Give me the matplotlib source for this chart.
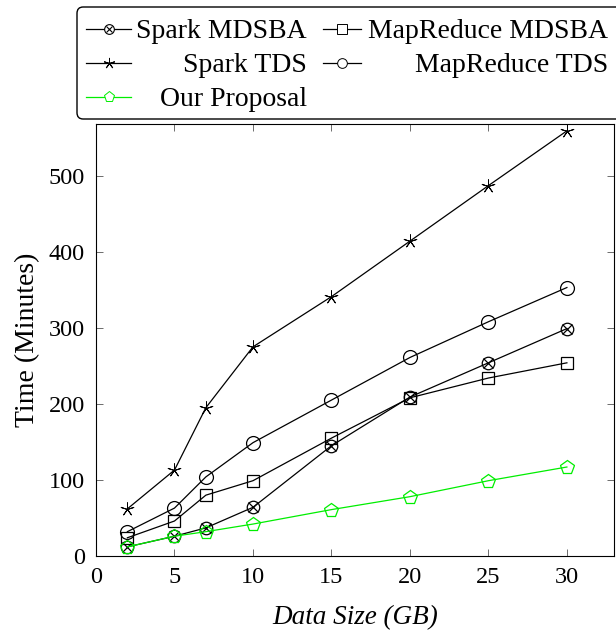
import matplotlib

matplotlib.use("Agg")
import matplotlib.pyplot as plt
from matplotlib.lines import Line2D
from matplotlib.patches import FancyBboxPatch

plt.rcParams["font.family"] = ["Liberation Serif", "DejaVu Serif"]

data_size = [2, 5, 7, 10, 15, 20, 25, 30]
spark_mdsba = [12, 26, 37, 64, 145, 209, 254, 299]
mapreduce_mdsba = [24, 46, 80, 99, 155, 208, 234, 254]
spark_tds = [62, 113, 195, 275, 341, 414, 487, 559]
mapreduce_tds = [32, 63, 104, 149, 205, 261, 308, 353]
our_proposal = [12, 26, 32, 42, 61, 78, 99, 117]

GREEN = "#00ee00"
W, H = 616, 635

fig = plt.figure(figsize=(W / 100, H / 100), dpi=100)
ax = fig.add_axes([96 / W, 1 - 556 / H, (614 - 96) / W, (556 - 124) / H])

star = (5, 2, 0)
common = dict(color="black", lw=0.9, mfc="none", mec="black", mew=0.9)

# otimes marker = open circle + x
ax.plot(data_size, spark_mdsba, marker="o", ms=9, **common)
ax.plot(data_size, spark_mdsba, ls="none", marker="x", ms=6.5, mec="black", mew=0.9)
ax.plot(data_size, mapreduce_mdsba, marker="s", ms=8.5, **common)
ax.plot(data_size, spark_tds, color="black", lw=0.9, marker=star, ms=10,
        mec="black", mew=0.7)
ax.plot(data_size, mapreduce_tds, marker="o", ms=10, **common)
ax.plot(data_size, our_proposal, color=GREEN, lw=0.9, marker="p", ms=10,
        mfc="none", mec=GREEN, mew=0.9)

ax.set_xlim(0, 33)
ax.set_ylim(0, 568)
ax.set_xticks([0, 5, 10, 15, 20, 25, 30])
ax.set_yticks([0, 100, 200, 300, 400, 500])
ax.tick_params(direction="in", length=5, width=0.6, labelsize=17.5, pad=8,
               top=True, right=True, color="#555555")
for s in ax.spines.values():
    s.set_linewidth(0.8)

ax.set_xlabel("Data Size (GB)", fontsize=19.5, fontstyle="italic", labelpad=12)
ax.set_ylabel("Time (Minutes)", fontsize=20, labelpad=6)

# legend drawn by hand: pgfplots-style, text right-aligned in each column
def fx(px):
    return px / W


def fy(py):
    return 1 - py / H


box = FancyBboxPatch((fx(77), fy(119)), fx(660) - fx(77), fy(7) - fy(119),
                     boxstyle="round,pad=0,rounding_size=0.01",
                     transform=fig.transFigure, fc="white", ec="black", lw=1.0,
                     clip_on=False, zorder=5)
fig.add_artist(box)

entries = [
    ("Spark MDSBA", 86, 131, 307, 29, "otimes"),
    ("MapReduce MDSBA", 323, 361, 608, 29, "s"),
    ("Spark TDS", 86, 131, 307, 63, star),
    ("MapReduce TDS", 323, 361, 608, 63, "o"),
    ("Our Proposal", 86, 131, 307, 97, "p"),
]
for label, x0, x1, xt, yy, mk in entries:
    col = GREEN if label == "Our Proposal" else "black"
    fig.add_artist(Line2D([fx(x0), fx(x1)], [fy(yy), fy(yy)], color=col, lw=0.9,
                          transform=fig.transFigure, zorder=6))
    xm = [fx((x0 + x1) / 2)]
    if mk == "otimes":
        fig.add_artist(Line2D(xm, [fy(yy)], marker="o", ms=7, mfc="white", mec=col,
                              mew=0.8, transform=fig.transFigure, zorder=7))
        fig.add_artist(Line2D(xm, [fy(yy)], marker="x", ms=5, mec=col, mew=0.8,
                              transform=fig.transFigure, zorder=8))
    else:
        ms = 8 if mk in ("p", star) else 7
        fig.add_artist(Line2D(xm, [fy(yy)], marker=mk, ms=ms, mfc="white", mec=col,
                              mew=0.7, transform=fig.transFigure, zorder=7))
    fig.text(fx(xt), fy(yy), label, ha="right", va="center_baseline", fontsize=20,
             zorder=8)

fig.savefig("out.png", dpi=100)
